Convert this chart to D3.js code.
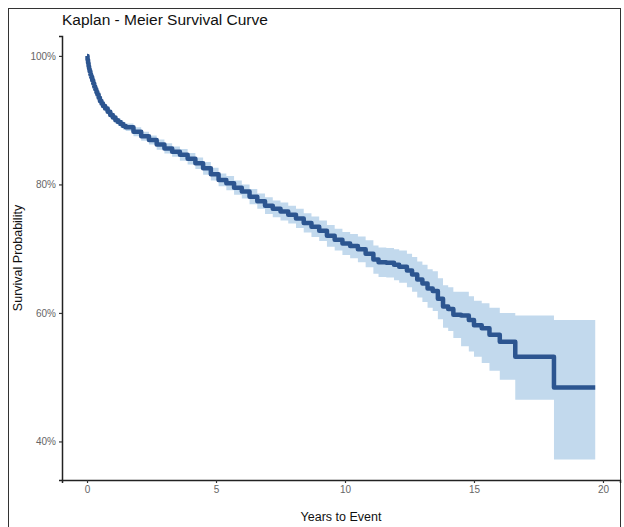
<!DOCTYPE html>
<html>
<head>
<meta charset="utf-8">
<script src="https://cdn.jsdelivr.net/npm/d3@7"></script>
<style>
  body { margin: 0; background: #fff; }
  svg { display: block; font-family: "Liberation Sans", Arial, sans-serif; }
</style>
</head>
<body>
<svg></svg>
<script>
const WIDTH = 624;
const HEIGHT = 527;

// years to event
const times = [0, 0.02, 0.04, 0.06, 0.08, 0.1, 0.13, 0.16, 0.2, 0.24, 0.28, 0.32, 0.36, 0.4,
  0.45, 0.5, 0.56, 0.62, 0.7, 0.8, 0.9, 1.0, 1.1, 1.2, 1.3, 1.4, 1.5, 1.8, 2.1, 2.4, 2.7,
  3.0, 3.3, 3.6, 3.9, 4.2, 4.5, 4.8, 5.1, 5.4, 5.7, 6.0, 6.3, 6.6, 6.9, 7.2, 7.5, 7.8, 8.1,
  8.4, 8.7, 9.0, 9.3, 9.6, 9.9, 10.2, 10.5, 10.8, 11.1, 11.3, 11.6, 11.9, 12.1, 12.4, 12.6,
  12.8, 13.0, 13.2, 13.4, 13.6, 13.8, 14.0, 14.2, 14.5, 14.8, 15.0, 15.3, 15.6, 16.0, 16.6,
  18.1, 19.7];
// survival estimate (%)
const survival = [100, 99.4, 98.9, 98.4, 98.0, 97.6, 97.1, 96.7, 96.2, 95.7, 95.2, 94.8, 94.4,
  94.0, 93.5, 93.0, 92.6, 92.2, 91.8, 91.3, 90.8, 90.4, 90.0, 89.7, 89.4, 89.1, 88.9, 88.2,
  87.5, 86.9, 86.2, 85.6, 85.1, 84.6, 84.0, 83.3, 82.5, 81.6, 80.7, 80.2, 79.5, 78.9, 78.1,
  77.4, 76.7, 76.2, 75.8, 75.3, 74.7, 74.0, 73.4, 72.8, 72.0, 71.4, 70.8, 70.4, 69.9, 69.2,
  68.3, 67.9, 67.8, 67.5, 67.2, 66.6, 66.0, 65.2, 64.6, 63.8, 63.4, 62.2, 61.0, 60.6, 59.7,
  59.6, 58.9, 58.1, 57.6, 56.6, 55.5, 53.2, 48.4, 48.4];
// confidence band upper (%)
const upper = [100, 99.5, 99.0, 98.5, 98.2, 97.8, 97.3, 96.9, 96.5, 96.0, 95.5, 95.1, 94.8,
  94.4, 93.9, 93.5, 93.1, 92.7, 92.3, 91.8, 91.3, 90.9, 90.6, 90.3, 90.0, 89.7, 89.5, 88.9,
  88.2, 87.6, 87.0, 86.4, 85.9, 85.5, 84.9, 84.2, 83.5, 82.6, 81.7, 81.3, 80.6, 80.0, 79.3,
  78.6, 78.0, 77.5, 77.2, 76.7, 76.2, 75.5, 75.0, 74.4, 73.7, 73.1, 72.6, 72.3, 71.9, 71.3,
  70.5, 70.2, 70.1, 69.9, 69.7, 69.2, 68.7, 68.0, 67.5, 66.8, 66.5, 65.4, 64.3, 64.0, 63.3,
  63.3, 62.6, 61.9, 61.5, 60.8, 60.0, 59.6, 58.9, 58.9];
// confidence band lower (%)
const lower = [100, 99.3, 98.8, 98.2, 97.8, 97.4, 96.9, 96.4, 95.9, 95.4, 94.9, 94.5, 94.0,
  93.6, 93.1, 92.6, 92.1, 91.7, 91.3, 90.8, 90.3, 89.9, 89.4, 89.1, 88.8, 88.5, 88.3, 87.5,
  86.8, 86.2, 85.4, 84.8, 84.3, 83.7, 83.1, 82.4, 81.5, 80.6, 79.7, 79.1, 78.4, 77.8, 76.9,
  76.2, 75.4, 74.9, 74.4, 73.9, 73.2, 72.5, 71.8, 71.2, 70.3, 69.7, 69.0, 68.5, 67.9, 67.1,
  66.1, 65.6, 65.5, 65.1, 64.7, 64.0, 63.3, 62.4, 61.7, 60.8, 60.3, 59.0, 57.7, 57.2, 56.1,
  54.8, 54.0, 53.2, 52.2, 51.0, 49.6, 46.5, 37.2, 37.2];

const xTicks = [0, 5, 10, 15, 20];
const yTicks = [40, 60, 80, 100];

const data = times.map(function(t, i) {
  return { t: t, s: survival[i], hi: upper[i], lo: lower[i] };
});

const svg = d3.select('svg')
  .attr('width', WIDTH)
  .attr('height', HEIGHT);

// outer frame
svg.append('rect')
  .attr('x', 8.5).attr('y', 8.5)
  .attr('width', 612).attr('height', 540)
  .attr('fill', 'none')
  .attr('stroke', '#333')
  .attr('stroke-width', 1);

const xScale = d3.scaleLinear().domain([-0.97, 20.66]).range([62, 620]);
const yScale = d3.scaleLinear().domain([34, 103.1]).range([480, 36]);

// confidence band
const area = d3.area()
  .curve(d3.curveStepAfter)
  .x(function(d) { return xScale(d.t); })
  .y0(function(d) { return yScale(d.lo); })
  .y1(function(d) { return yScale(d.hi); });

svg.append('path')
  .datum(data)
  .attr('d', area)
  .attr('fill', '#c2d9ed');

// survival curve
const line = d3.line()
  .curve(d3.curveStepAfter)
  .x(function(d) { return xScale(d.t); })
  .y(function(d) { return yScale(d.s); });

svg.append('path')
  .datum(data)
  .attr('d', line)
  .attr('fill', 'none')
  .attr('stroke', '#2c5590')
  .attr('stroke-width', 4.5)
  .attr('stroke-linejoin', 'round');

// axes
const leftAxis = d3.axisLeft(yScale)
  .tickValues(yTicks)
  .tickSize(3)
  .tickPadding(3)
  .tickFormat(function(d) { return d + '%'; });

const gy = svg.append('g')
  .attr('transform', 'translate(62,0)')
  .call(leftAxis);

const bottomAxis = d3.axisBottom(xScale)
  .tickValues(xTicks)
  .tickSize(3)
  .tickPadding(3);

const gx = svg.append('g')
  .attr('transform', 'translate(0,480)')
  .call(bottomAxis);

[gx, gy].forEach(function(g) {
  g.select('.domain').attr('stroke', '#222').attr('stroke-width', 1.5);
  g.selectAll('.tick line').attr('stroke', '#333').attr('stroke-width', 1.2);
  g.selectAll('.tick text')
    .attr('fill', '#666')
    .style('font-size', '10px')
    .style('font-family', '"Liberation Sans", Arial, sans-serif');
});

// title and axis labels
svg.append('text')
  .attr('x', 62).attr('y', 25)
  .attr('fill', '#111')
  .style('font-size', '15.5px')
  .text('Kaplan - Meier Survival Curve');

svg.append('text')
  .attr('x', 341).attr('y', 521)
  .attr('text-anchor', 'middle')
  .attr('fill', '#111')
  .style('font-size', '12.5px')
  .text('Years to Event');

svg.append('text')
  .attr('transform', 'translate(22,258) rotate(-90)')
  .attr('text-anchor', 'middle')
  .attr('fill', '#111')
  .style('font-size', '12.5px')
  .text('Survival Probability');
</script>
</body>
</html>
